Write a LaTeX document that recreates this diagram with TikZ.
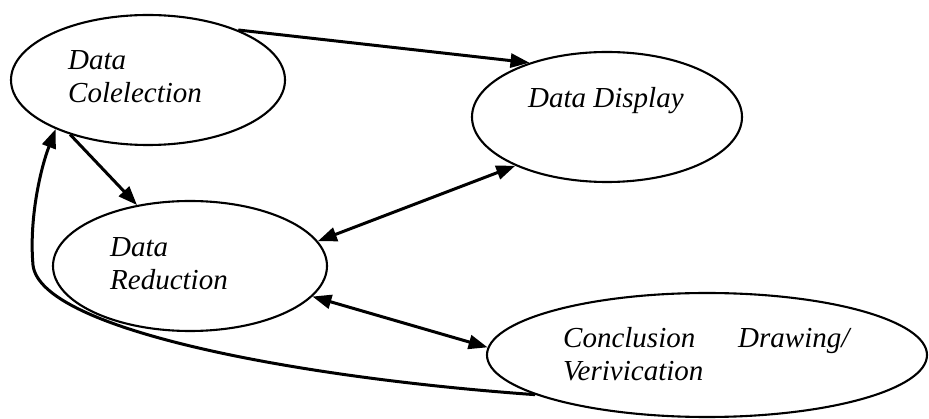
\documentclass[tikz,border=0pt]{standalone}
\usepackage{fontspec}
\setmainfont{Liberation Serif}
\usetikzlibrary{shapes.geometric,arrows.meta}
\begin{document}
\begin{tikzpicture}[x=1pt,y=-1pt,
  oval/.style={draw,ellipse,line width=2.1pt,inner sep=0pt},
  lbl/.style={anchor=base west,inner sep=0pt,font=\fontsize{29}{33}\selectfont\itshape},
  conn/.style={line width=3pt,-{Triangle[length=19pt,width=14pt]}},
  bconn/.style={line width=3pt,{Triangle[length=19pt,width=14pt]}-{Triangle[length=19pt,width=14pt]}}]
\useasboundingbox (0,0) rectangle (929,419);
\node[oval,minimum width=274pt,minimum height=130pt] (DC) at (148,80) {};
\node[oval,minimum width=270pt,minimum height=130pt] (DD) at (607,117) {};
\node[oval,minimum width=274pt,minimum height=130pt] (DR) at (190,266) {};
\node[oval,minimum width=440pt,minimum height=124pt] (CV) at (707,355) {};
\node[lbl] (t1) at (68,70) {Data};
\node[lbl] (t2) at (68,103) {Colelection};
\node[lbl] (t3) at (528,108) {Data Display};
\node[lbl] (t4) at (110,257) {Data};
\node[lbl] (t5) at (110,290) {Reduction};
\node[lbl] (t6) at (563,348) {Conclusion};
\node[lbl] (t7) at (738,348) {Drawing/};
\node[lbl] (t8) at (563,381) {Verivication};
\draw[conn] (DC.29) -- (DD.145);
\draw[conn] (DC.215) -- (DR.131);
\draw[bconn] (DR.11.5) -- (DD.208);
\draw[bconn] (DR.-14) -- (CV.178);
\draw[conn] (CV.193.3) .. controls (300,378) and (40,330) .. (33,265)
  .. controls (29,220) and (40,170) .. (DC.208.7);
\end{tikzpicture}
\end{document}
